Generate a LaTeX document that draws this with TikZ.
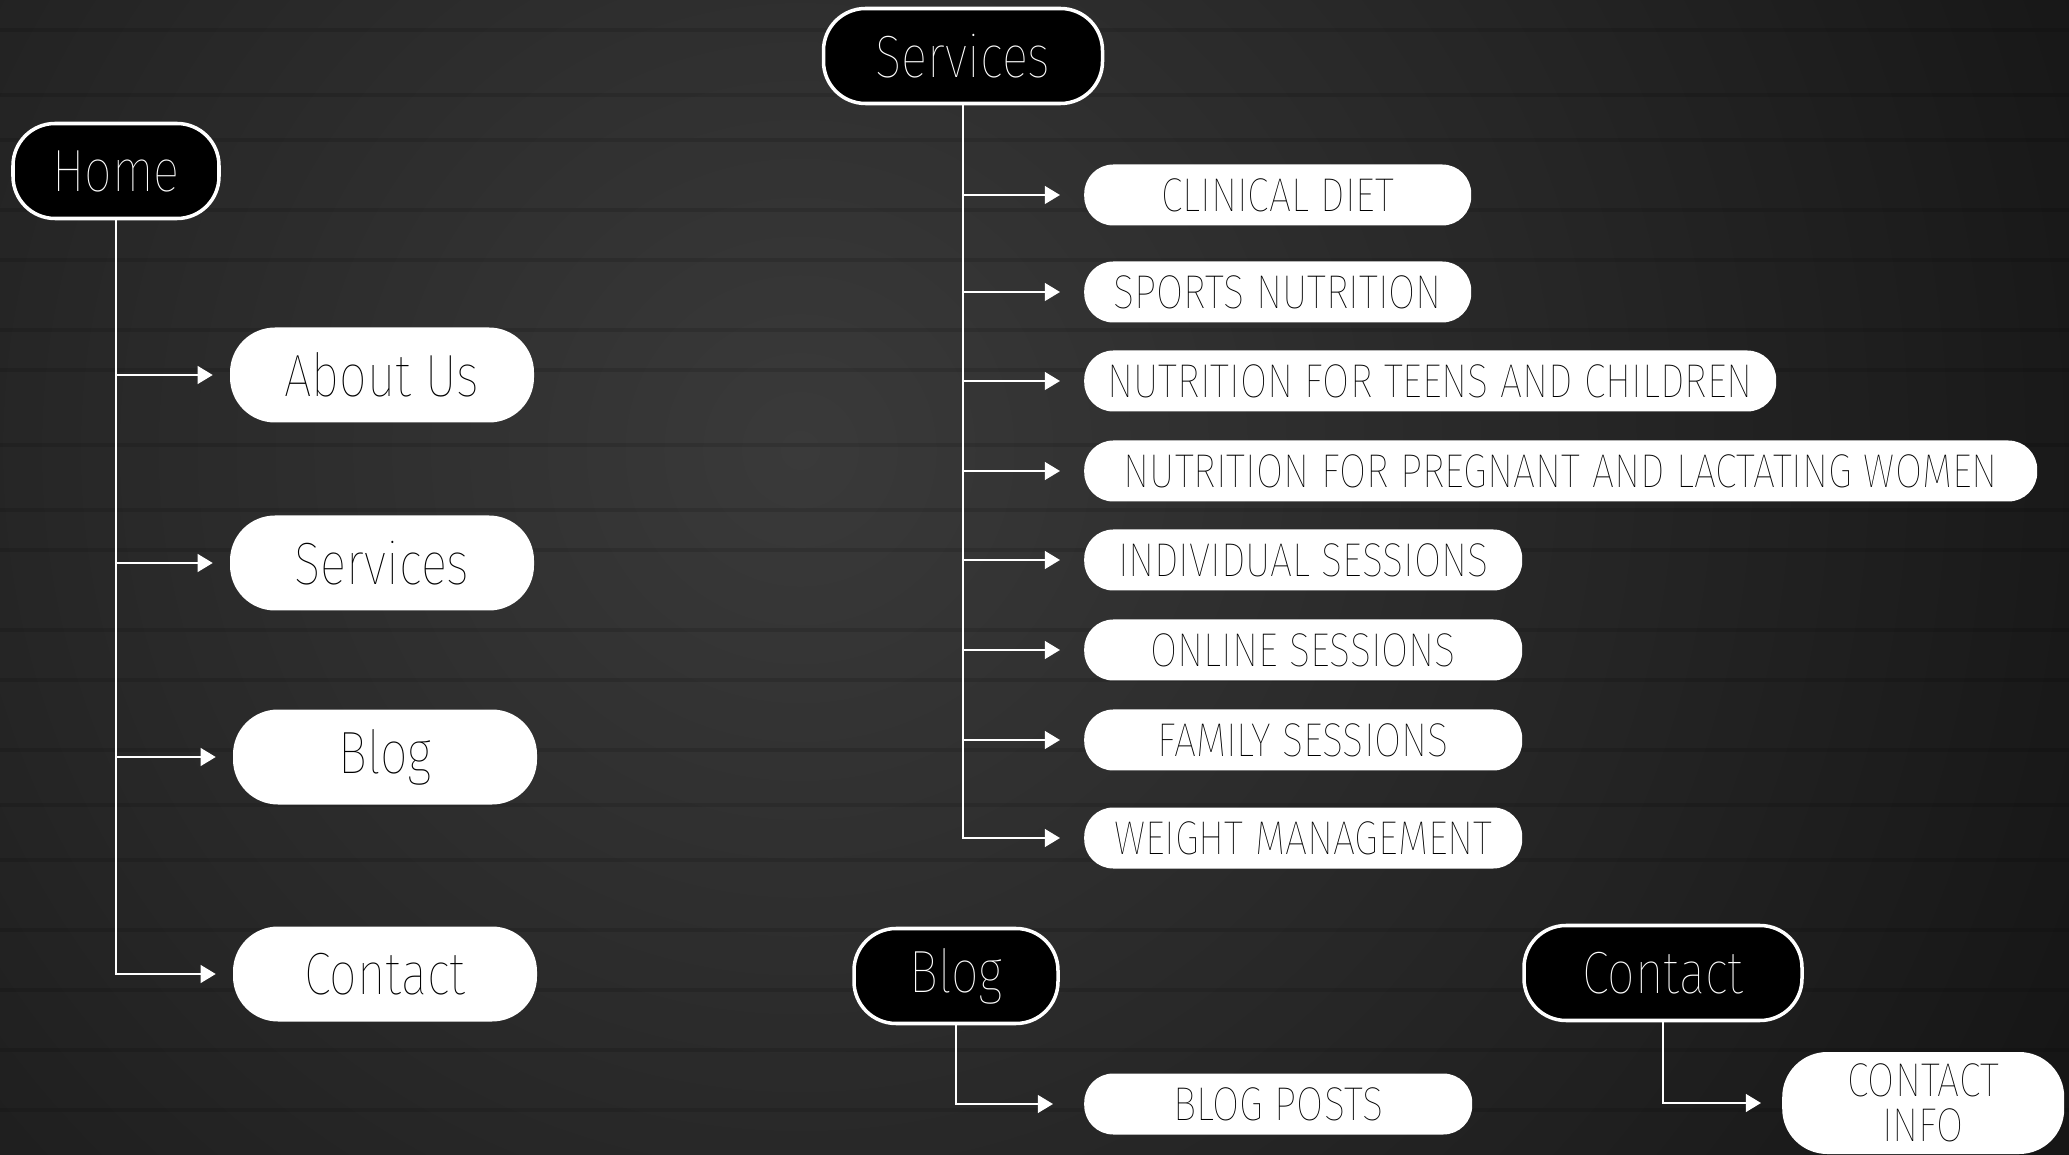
\documentclass[tikz,border=0pt]{standalone}
\usepackage{fontspec}
\usepackage{tikz}
\usetikzlibrary{arrows.meta,positioning,backgrounds,calc}
\newfontfamily\titlefont{Fira Sans Thin}[FakeStretch=0.82]
\newfontfamily\itemfont{Fira Sans Thin}[FakeStretch=0.83]
\def\pageheight{0.95cm}
\def\itemheight{0.61cm}
\definecolor{plankdark}{HTML}{161616}
\definecolor{planklight}{HTML}{3a3a3a}

\begin{document}
\begin{tikzpicture}[line width=0.7pt, myarrow/.style={white,-{Triangle[length=4.3pt,width=5pt]}}]
    \tikzstyle{header}=[draw=white,line width=1pt,fill=black,text=white,rounded corners=0.42cm,minimum height=\pageheight,inner sep=0pt,font=\titlefont\fontsize{17}{20}\selectfont]
    \tikzstyle{page}=[fill=white,text=black,rounded corners=0.45cm,minimum height=\pageheight,minimum width=3.04cm,inner sep=0pt,font=\titlefont\fontsize{17}{20}\selectfont]
    \tikzstyle{subpage}=[fill=white,text=black,rounded corners=0.29cm,minimum height=\itemheight,inner sep=0pt,anchor=west,font=\itemfont\fontsize{13.5}{12.8}\selectfont]

    % Background
    \useasboundingbox (0,0) rectangle (20.69,-11.55);
    \fill[plankdark] (0,0) rectangle (20.69,-11.55);
    \begin{scope}
        \clip (0,0) rectangle (20.69,-11.55);
        \shade[inner color=planklight, outer color=plankdark] (8,-4.5) circle (14);
        \foreach \y in {0.3,0.95,1.4,2.1,2.6,3.3,3.7,4.45,5.1,5.5,6.3,6.8,7.5,8.05,8.6,9.3,9.9,10.5,11.1}
            \draw[black, opacity=0.12, line width=1pt] (0,-\y) -- (20.69,-\y);
    \end{scope}

    % Home and its pages
    \node[header, minimum width=2.06cm] (home) at (1.16,-1.71) {Home};
    \node[page] (about) at (3.82,-3.75) {About Us};
    \node[page] (services) at (3.82,-5.63) {Services};
    \node[page] (blog) at (3.85,-7.57) {Blog};
    \node[page] (contact) at (3.85,-9.74) {Contact};

    % Services
    \node[header, minimum width=2.79cm] (srv) at (9.63,-0.56) {Services};
    \node[subpage, minimum width=3.87cm] (s-1) at (10.83,-1.95) {CLINICAL DIET};
    \node[subpage, minimum width=3.87cm] (s-2) at (10.83,-2.92) {SPORTS NUTRITION};
    \node[subpage, minimum width=6.92cm] (s-3) at (10.83,-3.81) {NUTRITION FOR TEENS AND CHILDREN};
    \node[subpage, minimum width=9.53cm] (s-4) at (10.83,-4.71) {NUTRITION FOR PREGNANT AND LACTATING WOMEN};
    \node[subpage, minimum width=4.38cm] (s-5) at (10.83,-5.60) {INDIVIDUAL SESSIONS};
    \node[subpage, minimum width=4.38cm] (s-6) at (10.83,-6.50) {ONLINE SESSIONS};
    \node[subpage, minimum width=4.38cm] (s-7) at (10.83,-7.40) {FAMILY SESSIONS};
    \node[subpage, minimum width=4.38cm] (s-8) at (10.83,-8.38) {WEIGHT MANAGEMENT};

    % Blog and Contact
    \node[header, minimum width=2.04cm] (blg) at (9.56,-9.76) {Blog};
    \node[subpage, minimum width=3.88cm] (posts) at (10.83,-11.04) {BLOG POSTS};
    \node[header, minimum width=2.78cm] (cnt) at (16.63,-9.73) {Contact};
    \node[subpage, minimum width=2.82cm, minimum height=1.02cm, rounded corners=0.45cm, align=center] (info) at (17.81,-11.03) {CONTACT\\INFO};

    % Connect every node
    \foreach \dest in {about,services,blog,contact}
        \draw[myarrow, shorten >=0.16cm] (home.south) |- (\dest.west);

    \foreach \dest in {1,...,8}
        \draw[myarrow, shorten >=0.23cm] (srv.south) |- (s-\dest.west);

    \draw[myarrow, shorten >=0.30cm] (blg.south) |- (posts.west);
    \draw[myarrow, shorten >=0.20cm] (cnt.south) |- (info.west);
\end{tikzpicture}
\end{document}
